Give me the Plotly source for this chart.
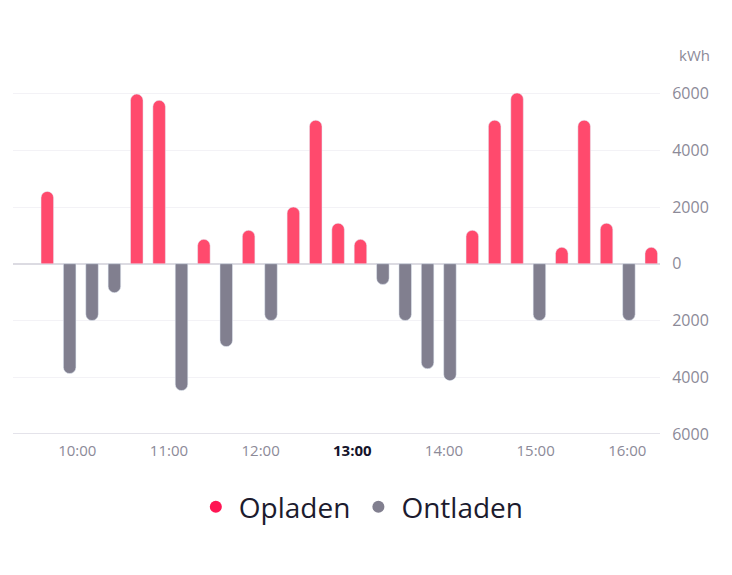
import plotly.graph_objects as go

# 15-minute slots (index), values in kWh
slots = list(range(28))
opladen = [2550, None, None, None, 5980, 5760, None, 860, None, 1180, None, 2000, 5060, 1430,
           860, None, None, None, None, 1180, 5060, 6020, None, 580, 5060, 1430, None, 580]
ontladen = [None, -3870, -2000, -1020, None, None, -4470, None, -2920, None, -2000, None, None, None,
            None, -730, -2000, -3700, -4120, None, None, None, -2000, None, None, None, -2000, None]
hour_labels = ["10:00", "11:00", "12:00", "13:00", "14:00", "15:00", "16:00"]
highlight_hour = "13:00"
y_ticks = [-6000, -4000, -2000, 0, 2000, 4000, 6000]

RED = "#FF4A6D"
RED_DOT = "#FF1553"
GRAY = "#817F8F"
TXT = "#8C8A98"
FONT = "Open Sans"

tickvals = [1.34 + 4.098 * k for k in range(len(hour_labels))]
ticktext = [f'<span style="color:#14132A"><b>{h}</b></span>' if h == highlight_hour else h
            for h in hour_labels]

fig = go.Figure()
fig.add_trace(go.Bar(x=slots, y=opladen, marker=dict(color=RED, cornerradius=7),
                     width=0.56, showlegend=False, name="Opladen"))
fig.add_trace(go.Bar(x=slots, y=ontladen, marker=dict(color=GRAY, cornerradius=7),
                     width=0.56, showlegend=False, name="Ontladen"))
# legend dots
fig.add_trace(go.Scatter(x=[None], y=[None], mode="markers", name="Opladen",
                         marker=dict(color=RED_DOT, size=14, symbol="circle")))
fig.add_trace(go.Scatter(x=[None], y=[None], mode="markers", name="Ontladen",
                         marker=dict(color=GRAY, size=14, symbol="circle")))

fig.update_layout(
    width=732, height=575,
    margin=dict(l=5, r=80, t=77, b=149),
    paper_bgcolor="white", plot_bgcolor="white",
    barmode="overlay",
    font=dict(family=FONT, color=TXT, size=15),
    legend=dict(orientation="h", xref="container", yref="container",
                x=0.482, y=0.132, xanchor="center", yanchor="middle",
                font=dict(size=28, color="#1C1B2E", family=FONT),
                itemsizing="constant", itemwidth=36, tracegroupgap=0),
    xaxis=dict(range=[-1.533, 27.39], tickvals=tickvals, ticktext=ticktext,
               showgrid=False, zeroline=False, showline=False,
               ticks="outside", ticklen=3, tickcolor="rgba(0,0,0,0)",
               tickfont=dict(size=15, color=TXT, family=FONT)),
    yaxis=dict(range=[-6000, 6300], side="right", tickvals=y_ticks,
               ticktext=[str(abs(v)) for v in y_ticks],
               showgrid=True, gridcolor="#F3F2F6", gridwidth=1,
               zeroline=True, zerolinecolor="#DCDBE2", zerolinewidth=2,
               showline=False, ticks="outside", ticklen=8, tickcolor="rgba(0,0,0,0)",
               tickfont=dict(size=16, color=TXT, family=FONT)),
    shapes=[dict(type="line", xref="paper", yref="y", x0=0, x1=1, y0=-6000, y1=-6000,
                 line=dict(color="#E4E3EA", width=2))],
    annotations=[dict(text="kWh", xref="paper", yref="paper", x=1.0, y=1.085,
                      xanchor="left", yanchor="middle", xshift=17, showarrow=False,
                      font=dict(size=15, color=TXT, family=FONT))],
)

fig.write_html("out.html")
